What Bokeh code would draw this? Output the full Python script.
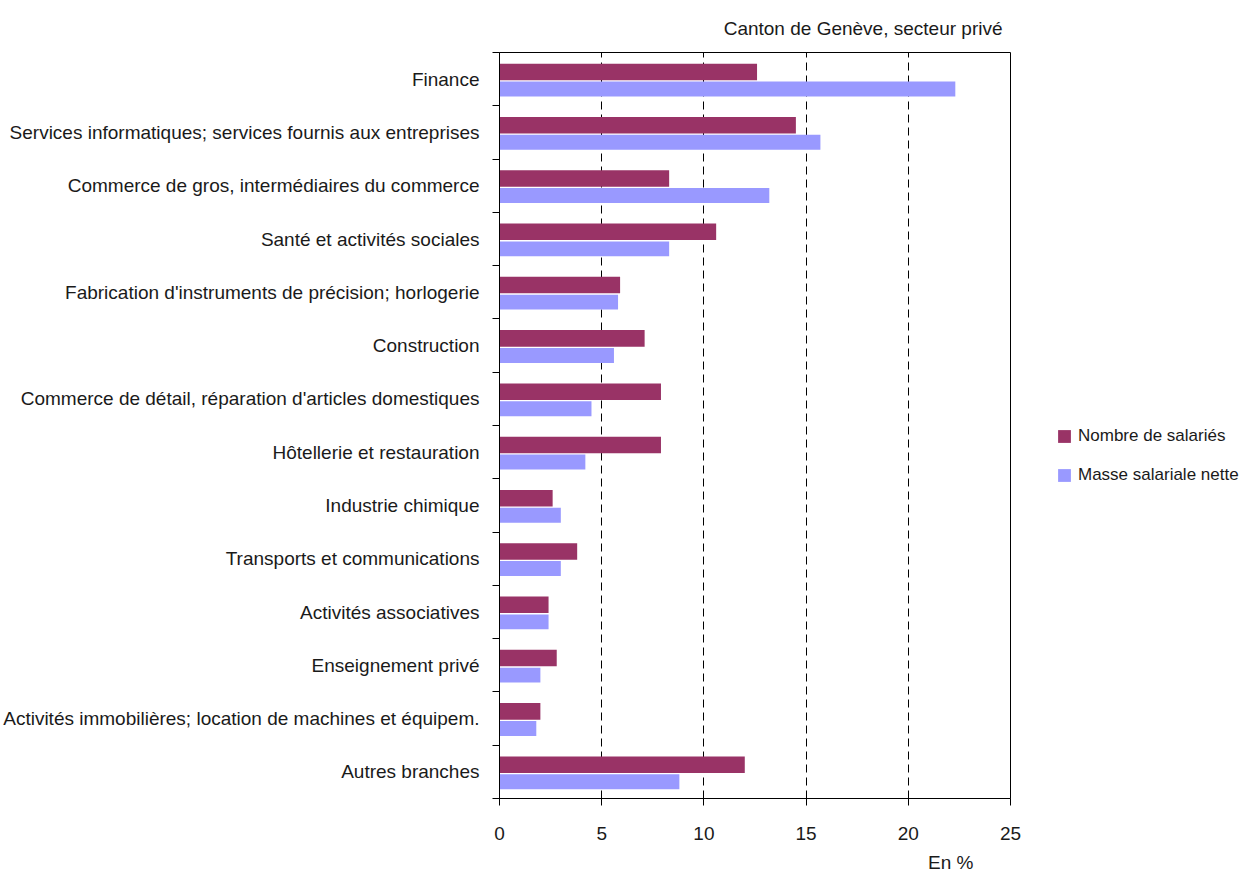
from bokeh.plotting import figure
from bokeh.models import (Range1d, LinearAxis, FixedTicker, Title,
                          ColumnDataSource, Legend, LegendItem)
from bokeh.layouts import row
from bokeh.transform import dodge
from bokeh.embed import file_html
from bokeh.resources import INLINE

categories = [
    "Finance",
    "Services informatiques; services fournis aux entreprises",
    "Commerce de gros, intermédiaires du commerce",
    "Santé et activités sociales",
    "Fabrication d'instruments de précision; horlogerie",
    "Construction",
    "Commerce de détail, réparation d'articles domestiques",
    "Hôtellerie et restauration",
    "Industrie chimique",
    "Transports et communications",
    "Activités associatives",
    "Enseignement privé",
    "Activités immobilières; location de machines et équipem.",
    "Autres branches",
]
nombre_salaries = [12.6, 14.5, 8.3, 10.6, 5.9, 7.1, 7.9, 7.9, 2.6, 3.8, 2.4, 2.8, 2.0, 12.0]
masse_salariale = [22.3, 15.7, 13.2, 8.3, 5.8, 5.6, 4.5, 4.2, 3.0, 3.0, 2.4, 2.0, 1.8, 8.8]
x_ticks = [0, 5, 10, 15, 20, 25]
series_names = ["Nombre de salariés", "Masse salariale nette"]
title_text = "Canton de Genève, secteur privé"
unit_text = "En %"

FONT = "Liberation Sans"
FS = "19px"
TXT = "#1a1a1a"
PURPLE = "#993366"
BLUE = "#9999FF"

n = len(categories)
# each category occupies 2 units on the y axis; first category at the top
ypos = [2 * (n - 1 - i) + 1 for i in range(n)]
src = ColumnDataSource(dict(y=ypos, cat=categories, a=nombre_salaries, b=masse_salariale))

W1 = 1040
p = figure(width=W1, height=886, output_backend="svg", toolbar_location=None,
           y_range=Range1d(0, 2 * n), x_range=Range1d(0, 25),
           y_axis_location=None, x_axis_location=None,
           min_border_left=498, min_border_right=W1 - 1010, min_border_top=52, min_border_bottom=88)

p.title.text = title_text
p.title.align = "right"
p.title.offset = 8
p.title.standoff = 28
p.title.text_font = FONT
p.title.text_font_size = FS
p.title.text_font_style = "normal"
p.title.text_color = TXT

tick_axis = LinearAxis(ticker=FixedTicker(ticks=list(range(0, 2 * n + 1, 2))),
                       major_label_overrides={k: "" for k in range(0, 2 * n + 1, 2)},
                       major_tick_out=7, major_tick_in=0, minor_tick_line_color=None,
                       major_label_standoff=0, axis_line_color="black", major_tick_line_color="black",
                       major_label_text_font_size="1px")
p.add_layout(tick_axis, "left")

label_axis = LinearAxis(ticker=FixedTicker(ticks=ypos),
                        major_label_overrides={y: c for y, c in zip(ypos, categories)},
                        axis_line_color=None, major_tick_line_color=None, minor_tick_line_color=None,
                        major_label_text_font=FONT, major_label_text_font_size=FS,
                        major_label_text_color=TXT, major_label_standoff=7)
p.add_layout(label_axis, "left")

x_axis = LinearAxis(ticker=FixedTicker(ticks=x_ticks), major_tick_out=7, major_tick_in=0,
                    minor_tick_line_color=None, axis_line_color="black", major_tick_line_color="black",
                    major_label_text_font=FONT, major_label_text_font_size=FS,
                    major_label_text_color=TXT, major_label_standoff=21)
p.add_layout(x_axis, "below")

p.add_layout(Title(text=unit_text, align="right", offset=37, standoff=14,
                   text_font=FONT, text_font_size=FS, text_font_style="normal",
                   text_color=TXT), "below")

p.xgrid.ticker = FixedTicker(ticks=x_ticks[1:-1])
p.xgrid.grid_line_color = "black"
p.xgrid.grid_line_dash = "8 5"
p.xgrid.grid_line_width = 1
p.ygrid.grid_line_color = None
p.outline_line_color = "black"
p.outline_line_width = 1
p.background_fill_color = "white"
p.border_fill_color = "white"

p.hbar(y=dodge("y", 0.27), right="a", left=0, height=0.62,
       source=src, fill_color=PURPLE, line_color=None)
p.hbar(y=dodge("y", -0.37), right="b", left=0, height=0.56,
       source=src, fill_color=BLUE, line_color=None)

# legend panel to the right
W2 = 1253 - W1
q = figure(width=W2, height=886, output_backend="svg", toolbar_location=None,
           x_range=Range1d(0, 1), y_range=Range1d(0, 1),
           x_axis_location=None, y_axis_location=None,
           min_border_left=0, min_border_right=0, min_border_top=52, min_border_bottom=88)
q.outline_line_color = None
q.xgrid.grid_line_color = None
q.ygrid.grid_line_color = None
q.background_fill_color = "white"
q.border_fill_color = "white"
# zero-width swatch renderers, only used for the legend glyphs
swatch = ColumnDataSource(dict(y=[0.5], right=[0]))
l1 = q.hbar(y="y", right="right", left=0, height=0.01, source=swatch, fill_color=PURPLE, line_color=None)
l2 = q.hbar(y="y", right="right", left=0, height=0.01, source=swatch, fill_color=BLUE, line_color=None)

legend = Legend(items=[LegendItem(label=series_names[0], renderers=[l1]),
                       LegendItem(label=series_names[1], renderers=[l2])],
                location=(16, 313), orientation="vertical",
                glyph_width=16, glyph_height=16, label_height=20, spacing=19,
                label_standoff=6, padding=0, margin=0, border_line_color=None,
                background_fill_alpha=0,
                label_text_font=FONT, label_text_font_size="17px", label_text_color=TXT)
q.add_layout(legend, "center")

layout = row(p, q, spacing=0)
open("out.html", "w").write(file_html(layout, INLINE))
